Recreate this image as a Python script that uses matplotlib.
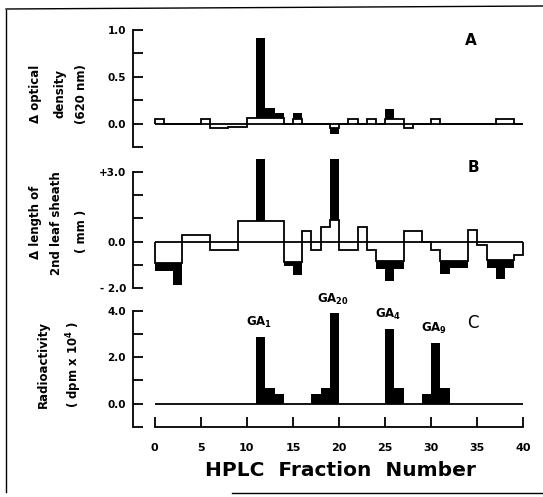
"""
HPLC fractions: bioassay (A, B) and radioactivity (C) profiles
"""
import numpy as np
import matplotlib
matplotlib.use("Agg")
import matplotlib.pyplot as plt
from matplotlib.lines import Line2D

plt.rcParams['font.family'] = ['DejaVu Sans']
plt.rcParams['font.weight'] = 'bold'
plt.rcParams['mathtext.default'] = 'bf'

# fraction bin edges 0..40
fraction_edges = np.arange(0, 41)

# A - delta optical density (620 nm), open outline, one value per fraction
od_open = [0.05, 0, 0, 0, 0, 0.05, -0.045, -0.045, -0.03, -0.03,
           0.057, 0.057, 0.057, 0.057, 0, 0.05, 0, 0, 0, -0.045,
           0, 0.05, 0, 0.05, 0, 0.05, 0.05, -0.045, 0, 0,
           0.05, 0, 0, 0, 0, 0, 0, 0.05, 0.05, 0]
od_fill_fractions = [11, 12, 13, 15, 19, 25]
od_fill_tops = [0.91, 0.17, 0.12, 0.12, -0.11, 0.16]

# B - delta length of 2nd leaf sheath (mm)
sheath_open = [-0.92, -0.92, -0.92, 0.27, 0.27, 0.27, -0.38, -0.38, -0.38, 0.88,
               0.88, 0.88, 0.88, 0.88, -0.9, -0.9, 0.47, -0.35, 0.65, 0.92,
               -0.35, -0.35, 0.65, -0.35, -0.82, -0.82, -0.82, 0.45, 0.45, 0.0,
               -0.35, -0.82, -0.82, -0.82, 0.5, -0.15, -0.8, -0.8, -0.8, -0.58]
sheath_fill_fractions = [0, 1, 2, 11, 14, 15, 19, 24, 25, 26, 31, 32, 33, 36, 37, 38]
sheath_fill_tops = [-1.25, -1.25, -1.86, 3.57, -1.05, -1.42, 3.57, -1.18, -1.68,
                    -1.18, -1.4, -1.14, -1.14, -1.14, -1.6, -1.14]

# C - radioactivity (dpm x 10^4)
radio_fractions = [11, 12, 13, 17, 18, 19, 25, 26, 29, 30, 31]
radio_values = [2.88, 0.65, 0.39, 0.39, 0.68, 3.88, 3.21, 0.65, 0.43, 2.59, 0.65]
peak_names = [r"GA$_{1}$", r"GA$_{20}$", r"GA$_{4}$", r"GA$_{9}$"]

x_ticks = [0, 5, 10, 15, 20, 25, 30, 35, 40]

LW = 1.3
W, H = 543, 497


def px_axes(top_px, bottom_px):
    left = 133.0
    right = 133.0 + 42.75 * 9.22
    return [left / W, 1 - bottom_px / H, (right - left) / W, (bottom_px - top_px) / H]


def style_y(ax, major, labels, minor, bounds):
    for s in ['top', 'right', 'bottom']:
        ax.spines[s].set_visible(False)
    ax.spines['left'].set_linewidth(LW)
    ax.spines['left'].set_bounds(*bounds)
    ax.set_yticks(major)
    ax.set_yticklabels(labels)
    ax.set_yticks(minor, minor=True)
    ax.tick_params(axis='y', which='both', direction='in', length=7, width=LW,
                   labelsize=7.5, pad=5)
    ax.set_xlim(-2.35, 40.4)
    ax.set_xticks([])


def bioassay(ax, open_vals, fill_fr, fill_tops):
    base = dict(zip(range(len(open_vals)), open_vals))
    ax.hlines(0, fraction_edges[0], fraction_edges[-1], color='black', lw=LW)
    ax.stairs(open_vals, fraction_edges, baseline=0, color='black', lw=LW)
    bottoms = [base[f] for f in fill_fr]
    heights = [t - b for t, b in zip(fill_tops, bottoms)]
    ax.bar(fill_fr, heights, bottom=bottoms, width=1, align='edge',
           color='black', linewidth=0)


fig = plt.figure(figsize=(W / 100, H / 100), dpi=100)

# panel A
axA = fig.add_axes(px_axes(30.0, 147.3))
bioassay(axA, od_open, od_fill_fractions, od_fill_tops)
axA.set_ylim(-0.25, 1.0)
style_y(axA, [0.0, 0.5, 1.0], ['0.0', '0.5', '1.0'], [-0.25, 0.25, 0.75], (-0.25, 1.0))
axA.text(34.3, 0.89, 'A', fontsize=11, ha='center', va='center')

# panel B
axB = fig.add_axes(px_axes(157.0, 288.0))
bioassay(axB, sheath_open, sheath_fill_fractions, sheath_fill_tops)
axB.set_ylim(-2.0, 3.65)
style_y(axB, [-2, 0, 3], ['- 2.0', '0.0', '+3.0'], [-1, 1, 2], (-2, 3))
axB.text(34.6, 3.2, 'B', fontsize=11, ha='center', va='center')

# panel C
axC = fig.add_axes(px_axes(310.7, 426.7))
axC.hlines(0, fraction_edges[0], fraction_edges[-1], color='black', lw=LW)
axC.bar(radio_fractions, radio_values, width=1, align='edge', color='black', linewidth=0)
axC.set_ylim(-1, 4)
style_y(axC, [0, 2, 4], ['0.0', '2.0', '4.0'], [-1, 1, 3], (-1, 4))
axC.spines['bottom'].set_visible(True)
axC.spines['bottom'].set_linewidth(LW)
axC.spines['bottom'].set_bounds(0, 40)
axC.set_xticks(x_ticks)
axC.set_xticklabels([str(t) for t in x_ticks])
axC.tick_params(axis='x', direction='in', length=7, width=LW, labelsize=8, pad=12)

peaks = [f for f, v in zip(radio_fractions, radio_values) if v > 2]
peak_vals = [v for v in radio_values if v > 2]
for name, f, v in zip(peak_names, peaks, peak_vals):
    axC.annotate(name, (f + 0.3, v), xytext=(0, 5), textcoords='offset points',
                 ha='center', va='bottom', fontsize=8.5)
axC.text(34.5, 3.47, 'C', fontsize=12, ha='center', va='center', fontweight='normal')

# axis titles
fig.text(35 / W, 1 - 94 / H, 'Δ optical', rotation=90, ha='center', va='center', fontsize=8.5)
fig.text(60 / W, 1 - 94 / H, 'density', rotation=90, ha='center', va='center', fontsize=8.5)
fig.text(82 / W, 1 - 94 / H, '(620 nm)', rotation=90, ha='center', va='center', fontsize=8.5)
fig.text(36 / W, 1 - 222 / H, 'Δ length of', rotation=90, ha='center', va='center', fontsize=8.5)
fig.text(57 / W, 1 - 223 / H, '2nd leaf sheath', rotation=90, ha='center', va='center', fontsize=8.5)
fig.text(82 / W, 1 - 231 / H, '( mm )', rotation=90, ha='center', va='center', fontsize=8.5)
fig.text(43 / W, 1 - 365 / H, 'Radioactivity', rotation=90, ha='center', va='center', fontsize=8.5)
fig.text(74 / W, 1 - 364 / H, r'( dpm x 10$^{4}$ )', rotation=90, ha='center', va='center',
         fontsize=8.5)
fig.text(340.5 / W, 1 - 470 / H, 'HPLC  Fraction  Number', ha='center', va='center', fontsize=14.5)

# scanned page frame
fig.add_artist(Line2D([6 / W, 6 / W], [1 - 10 / H, 1 - 492 / H], color='black', lw=1))
fig.add_artist(Line2D([6 / W, 1], [1 - 9 / H, 1 - 6 / H], color='black', lw=1))
fig.add_artist(Line2D([232 / W, 1], [1 - 493 / H, 1 - 493 / H], color='black', lw=1))

fig.savefig('out.png', dpi=100)
